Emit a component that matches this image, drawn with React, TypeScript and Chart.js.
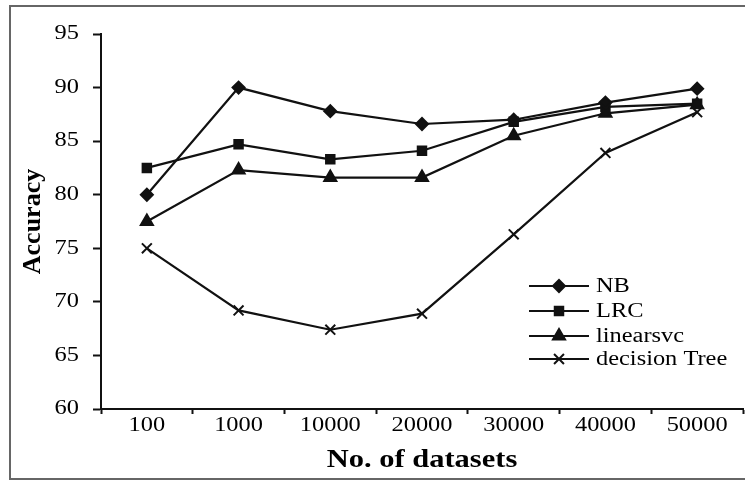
import React, { useEffect, useRef } from "react";
import { Chart, registerables } from "chart.js";
import { drawPoint } from "chart.js/helpers";

Chart.register(...registerables);

const categories = ["100", "1000", "10000", "20000", "30000", "40000", "50000"];
const nbValues = [80.0, 90.0, 87.8, 86.6, 87.0, 88.6, 89.9];
const lrcValues = [82.5, 84.7, 83.3, 84.1, 86.8, 88.2, 88.5];
const linearsvcValues = [77.5, 82.3, 81.6, 81.6, 85.5, 87.6, 88.4];
const treeValues = [75.0, 69.2, 67.4, 68.9, 76.3, 83.9, 87.7];
const seriesNames = ["NB", "LRC", "linearsvc", "decision Tree"];
const pointStyles = ["rectRot", "rect", "triangle", "crossRot"];
const yTicks = [60, 65, 70, 75, 80, 85, 90, 95];

const FONT = "'Liberation Serif', 'Times New Roman', serif";
const TEXT_STRETCH = 1.22;
const CANVAS_W = 752;

const stretchTextPlugin = {
  id: "stretchText",
  beforeDraw(chart: any) {
    const ctx = chart.ctx as any;
    if (ctx.__stretched) return;
    ctx.__stretched = true;
    const orig = ctx.fillText.bind(ctx);
    ctx.fillText = function (text: string, x: number, y: number, maxWidth?: number) {
      const t = ctx.getTransform();
      if (Math.abs(t.b) > 1e-6 || Math.abs(t.c) > 1e-6) {
        return maxWidth === undefined ? orig(text, x, y) : orig(text, x, y, maxWidth);
      }
      ctx.save();
      ctx.translate(x, y);
      ctx.scale(TEXT_STRETCH, 1);
      if (maxWidth === undefined) orig(text, 0, 0);
      else orig(text, 0, 0, maxWidth / TEXT_STRETCH);
      ctx.restore();
    };
  },
};

const legendPlugin = {
  id: "lineLegend",
  afterDraw(chart: any) {
    const ctx = chart.ctx;
    const x0 = 529;
    const x1 = 589;
    const ys = [286, 311, 336, 359];
    ctx.save();
    chart.data.datasets.forEach((ds: any, i: number) => {
      const y = ys[i];
      ctx.strokeStyle = "#111";
      ctx.fillStyle = "#111";
      ctx.lineWidth = 2;
      ctx.beginPath();
      ctx.moveTo(x0, y);
      ctx.lineTo(x1, y);
      ctx.stroke();
      drawPoint(
        ctx,
        {
          pointStyle: ds.pointStyle,
          radius: ds.pointRadius,
          borderWidth: 2,
          rotation: 0,
        } as any,
        (x0 + x1) / 2,
        y
      );
      ctx.fillStyle = "#000";
      ctx.font = `20px ${FONT}`;
      ctx.textBaseline = "middle";
      ctx.textAlign = "left";
      ctx.fillText(ds.label, 596, y + 1);
    });
    ctx.restore();
  },
};

export default function App() {
  const ref = useRef<HTMLCanvasElement | null>(null);

  useEffect(() => {
    if (!ref.current) return;
    const valueSets = [nbValues, lrcValues, linearsvcValues, treeValues];
    const radii = [6, 6, 7, 7];
    const chart = new Chart(ref.current, {
      type: "line",
      data: {
        labels: categories,
        datasets: valueSets.map((vals, i) => ({
          label: seriesNames[i],
          data: vals,
          borderColor: "#111",
          backgroundColor: "#111",
          borderWidth: 2.2,
          pointStyle: pointStyles[i] as any,
          pointRadius: radii[i],
          pointBorderWidth: 2,
          pointBackgroundColor: "#111",
          pointBorderColor: "#111",
          tension: 0,
        })),
      },
      plugins: [stretchTextPlugin, legendPlugin],
      options: {
        animation: false,
        responsive: false,
        devicePixelRatio: 1,
        layout: { padding: { left: 0, right: 0, top: 34, bottom: 0 } },
        plugins: {
          legend: { display: false },
          tooltip: { enabled: false },
        },
        scales: {
          x: {
            type: "category",
            offset: true,
            grid: {
              offset: true,
              display: true,
              drawOnChartArea: false,
              drawTicks: true,
              tickLength: 5,
              tickColor: "#111",
              tickWidth: 2,
            },
            border: { display: true, color: "#111", width: 2 },
            ticks: {
              color: "#000",
              font: { family: FONT, size: 20 },
              padding: 0,
              maxRotation: 0,
            },
            title: {
              display: true,
              text: "No. of datasets",
              color: "#000",
              font: { family: FONT, size: 25, weight: "bold" },
              padding: { top: 4, bottom: 4 },
            },
            afterFit(scale: any) {
              scale.height = 71;
            },
          },
          y: {
            min: 60,
            max: 95,
            afterBuildTicks(scale: any) {
              scale.ticks = yTicks.map((v) => ({ value: v }));
            },
            grid: {
              display: true,
              drawOnChartArea: false,
              drawTicks: true,
              tickLength: 8,
              tickColor: "#111",
              tickWidth: 2,
            },
            border: { display: true, color: "#111", width: 2 },
            ticks: {
              color: "#000",
              font: { family: FONT, size: 20 },
              padding: 14,
            },
            title: {
              display: true,
              text: "Accuracy",
              color: "#000",
              font: { family: FONT, size: 26, weight: "bold" },
              padding: { top: 18, bottom: 0 },
            },
            afterFit(scale: any) {
              scale.width = 101;
            },
          },
        },
      },
    });
    return () => chart.destroy();
  }, []);

  return (
    <div
      style={{
        position: "fixed",
        left: 0,
        top: 0,
        width: 745,
        height: 480,
        background: "#fff",
        overflow: "hidden",
      }}
    >
      <div
        style={{
          position: "absolute",
          left: 9,
          top: 5,
          width: 760,
          height: 471,
          border: "2px solid #666",
        }}
      />
      <canvas
        ref={ref}
        width={CANVAS_W}
        height={480}
        style={{ position: "absolute", left: 0, top: 0, width: CANVAS_W, height: 480 }}
      />
    </div>
  );
}
